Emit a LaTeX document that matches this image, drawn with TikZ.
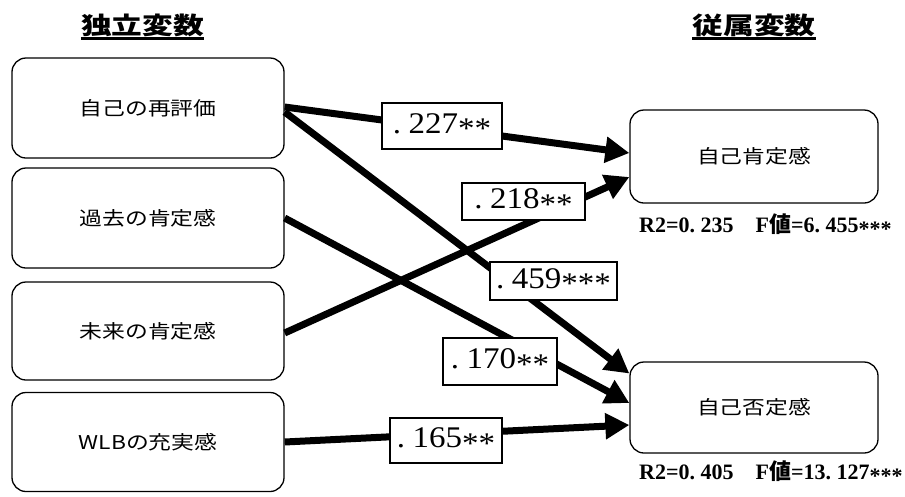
\documentclass[tikz,border=0pt]{standalone}
\usepackage{fontspec}
\setmainfont{Liberation Serif}
\newfontfamily\jp[FakeStretch=1.2]{Noto Sans CJK JP}
\newfontfamily\jpplain{Noto Sans CJK JP}
\newfontfamily\jphead[FakeStretch=1.28]{Noto Sans CJK JP}
\newfontfamily\numfont[FakeStretch=1.1]{Liberation Serif}
\usetikzlibrary{arrows.meta}
% half-width period followed by its blank, as in the coefficient labels
\newcommand\hwdot{.\hspace{0.25em}}
\newcommand\lowast{\raisebox{-0.18em}{*}}
\tikzset{
  varbox/.style={draw, line width=1.3pt, rounded corners=14pt, fill=white,
    inner sep=0pt, font=\jp\fontsize{19}{22}\selectfont},
  coef/.style={draw, line width=1.3pt, fill=white, inner sep=0pt,
    font=\numfont\fontsize{30}{34}\selectfont},
  path arrow/.style={line width=7pt, -{Triangle[length=24pt,width=25pt]}},
  heading/.style={inner sep=0pt, font=\jphead\bfseries\fontsize{24}{26}\selectfont},
  stats/.style={anchor=west, inner sep=0pt, font=\bfseries\fontsize{22}{24}\selectfont}
}
\begin{document}
\begin{tikzpicture}[x=1pt,y=-1pt]
\useasboundingbox (0,0) rectangle (905,496);

% column headings
\node[heading] (hL) at (142.5,25) {独立変数};
\node[heading] (hR) at (754,25) {従属変数};
\draw[line width=2.4pt] ([yshift=-2pt]hL.south west) -- ([yshift=-2pt]hL.south east);
\draw[line width=2.4pt] ([yshift=-2pt]hR.south west) -- ([yshift=-2pt]hR.south east);

% independent variables
\node[varbox, minimum width=272pt, minimum height=100pt] (L1) at (148,108) {自己の再評価};
\node[varbox, minimum width=272pt, minimum height=100pt] (L2) at (148,218) {過去の肯定感};
\node[varbox, minimum width=272pt, minimum height=98pt]  (L3) at (148,331) {未来の肯定感};
\node[varbox, minimum width=272pt, minimum height=99pt]  (L4) at (148,442) {WLBの充実感};

% dependent variables
\node[varbox, minimum width=248pt, minimum height=93pt] (R1) at (754,156.5) {自己肯定感};
\node[varbox, minimum width=248pt, minimum height=91pt] (R2) at (754,407.5) {自己否定感};

% regression paths
\draw[path arrow] ([yshift=1pt]L1.east)  -- ([yshift=3.5pt]R1.west);
\draw[path arrow] ([yshift=-4pt]L1.east) -- ([yshift=34pt]R2.west);
\draw[path arrow] (L2.east)               -- ([yshift=4.5pt]R2.west);
\draw[path arrow] ([yshift=-2pt]L3.east) -- ([yshift=-20.5pt]R1.west);
\draw[path arrow] (L4.east)               -- ([yshift=-17.5pt]R2.west);

% standardized coefficients
\node[coef, minimum width=120pt, minimum height=46pt] (c1) at (442,126)     {\hwdot 227\lowast\lowast};
\node[coef, minimum width=123pt, minimum height=37pt] (c2) at (523.5,201.5) {\hwdot 218\lowast\lowast};
\node[coef, minimum width=127pt, minimum height=38pt] (c3) at (553.5,281)   {\hwdot 459\lowast\lowast\lowast};
\node[coef, minimum width=114pt, minimum height=47pt] (c4) at (500,361.5)   {\hwdot 170\lowast\lowast};
\node[coef, minimum width=112pt, minimum height=45pt] (c5) at (446,440.5)   {\hwdot 165\lowast\lowast};

% model fit
\node[stats] (s1) at (639,225) {R2=0\hwdot 235\hspace{1em}F{\jpplain\bfseries 値}=6\hwdot 455\lowast\lowast\lowast};
\node[stats] (s2) at (639,472) {R2=0\hwdot 405\hspace{1em}F{\jpplain\bfseries 値}=13\hwdot 127\lowast\lowast\lowast};
\end{tikzpicture}
\end{document}
